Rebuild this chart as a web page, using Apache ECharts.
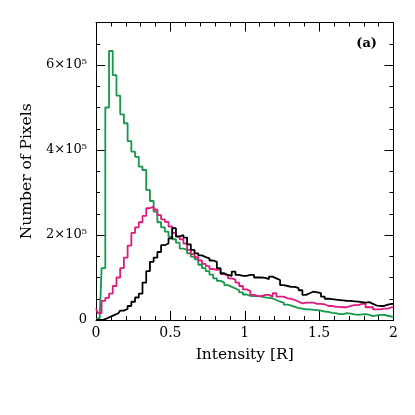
<!DOCTYPE html>
<html>
<head>
<meta charset="utf-8">
<script src="https://cdn.jsdelivr.net/npm/echarts@6/dist/echarts.min.js"></script>
<style>
html,body{margin:0;padding:0;background:#fff;}
#chart{width:415px;height:415px;}
</style>
</head>
<body>
<div id="chart"></div>
<script>
// Bin centres (Intensity [R])
const binCenters = [
  0.000,0.025,0.050,0.075,0.100,0.125,0.150,0.175,0.200,0.225,
  0.250,0.275,0.300,0.325,0.350,0.375,0.400,0.425,0.450,0.475,
  0.500,0.525,0.550,0.575,0.600,0.625,0.650,0.675,0.700,0.725,
  0.750,0.775,0.800,0.825,0.850,0.875,0.900,0.925,0.950,0.975,
  1.000,1.025,1.050,1.075,1.100,1.125,1.150,1.175,1.200,1.225,
  1.250,1.275,1.300,1.325,1.350,1.375,1.400,1.425,1.450,1.475,
  1.500,1.525,1.550,1.575,1.600,1.625,1.650,1.675,1.700,1.725,
  1.750,1.775,1.800,1.825,1.850,1.875,1.900,1.925,1.950,1.975,
  2.000
];
// Number of pixels, in units of 10^5
const greenCounts = [
  0.02,0.05,1.22,5.00,6.33,5.76,5.28,4.84,4.63,4.21,
  3.96,3.84,3.61,3.53,3.06,2.80,2.55,2.30,2.18,2.08,
  1.96,1.90,1.82,1.68,1.65,1.57,1.49,1.43,1.30,1.22,
  1.15,1.07,0.98,0.92,0.88,0.82,0.78,0.74,0.70,0.65,
  0.60,0.57,0.56,0.56,0.55,0.53,0.52,0.51,0.47,0.43,
  0.41,0.36,0.34,0.31,0.28,0.27,0.25,0.25,0.24,0.23,
  0.22,0.20,0.19,0.17,0.16,0.14,0.14,0.16,0.15,0.13,
  0.12,0.13,0.14,0.12,0.09,0.11,0.12,0.12,0.10,0.08,
  0.08
];
const magentaCounts = [
  0.27,0.16,0.45,0.52,0.62,0.80,1.00,1.22,1.47,1.75,
  2.05,2.18,2.30,2.45,2.63,2.67,2.60,2.47,2.37,2.31,
  2.20,2.05,1.96,1.90,1.80,1.65,1.55,1.48,1.40,1.32,
  1.27,1.20,1.18,1.20,1.08,1.04,0.98,0.95,0.88,0.80,
  0.72,0.68,0.59,0.56,0.56,0.59,0.59,0.55,0.63,0.55,
  0.55,0.51,0.50,0.47,0.43,0.39,0.41,0.41,0.41,0.38,
  0.38,0.37,0.33,0.33,0.31,0.31,0.30,0.30,0.33,0.35,
  0.35,0.38,0.38,0.30,0.30,0.25,0.25,0.27,0.27,0.30,
  0.30
];
const blackCounts = [
  0.00,0.00,0.01,0.04,0.08,0.12,0.16,0.22,0.26,0.33,
  0.43,0.53,0.62,0.88,1.15,1.37,1.47,1.60,1.76,1.80,
  1.92,2.16,1.97,2.00,1.94,1.78,1.65,1.57,1.52,1.48,
  1.45,1.40,1.37,1.22,1.10,1.06,1.04,1.14,1.06,1.04,
  1.04,1.06,1.06,1.00,1.00,0.99,0.96,1.02,0.98,0.94,
  0.82,0.80,0.78,0.78,0.75,0.70,0.59,0.63,0.67,0.65,
  0.63,0.55,0.50,0.49,0.48,0.47,0.46,0.45,0.45,0.44,
  0.43,0.42,0.41,0.42,0.38,0.34,0.33,0.33,0.36,0.38,
  0.38
];
const xTickLabels = ['0','0.5','1','1.5','2'];
const yTickLabels = ['0','2×10⁵','4×10⁵','6×10⁵'];

const FONT = 'DejaVu Serif';
const pairs = arr => binCenters.map((x, i) => [x, arr[i]]);

const chart = echarts.init(document.getElementById('chart'), null, {renderer: 'canvas'});

const axisLineStyle = {show: true, onZero: false, lineStyle: {color: '#000', width: 1}};
function xAx(pos, showLabel) {
  return {
    type: 'value', position: pos, min: 0, max: 2, interval: 0.5,
    axisLine: axisLineStyle,
    axisTick: {show: true, inside: true, length: 9, lineStyle: {color: '#000'}},
    minorTick: {show: true, splitNumber: 5, length: 4, lineStyle: {color: '#000'}},
    splitLine: {show: false},
    axisLabel: {show: showLabel, fontFamily: FONT, fontSize: 14, color: '#000', margin: 6,
      formatter: v => { const i = Math.round(v / 0.5); return xTickLabels[i] !== undefined ? xTickLabels[i] : ''; }},
    name: showLabel ? 'Intensity [R]' : '',
    nameLocation: 'middle', nameGap: 27,
    nameTextStyle: {fontFamily: FONT, fontSize: 15.5, color: '#000'}
  };
}
function yMajor(pos, showLabel) {
  return {
    type: 'value', position: pos, min: 0, max: 7, interval: 2,
    axisLine: axisLineStyle,
    axisTick: {show: true, inside: true, length: 9, lineStyle: {color: '#000'}},
    splitLine: {show: false},
    axisLabel: {show: showLabel, fontFamily: FONT, fontSize: 13, color: '#000', margin: 9,
      formatter: v => { const i = Math.round(v / 2); return (Math.abs(v - 2 * i) < 1e-9 && yTickLabels[i] !== undefined) ? yTickLabels[i] : ''; }},
    name: showLabel ? 'Number of Pixels' : '',
    nameLocation: 'middle', nameGap: 50, nameRotate: 90,
    nameTextStyle: {fontFamily: FONT, fontSize: 15.5, color: '#000'}
  };
}
function yMinor(pos) {
  return {
    type: 'value', position: pos, min: 0, max: 7, interval: 0.5,
    axisLine: {show: false, onZero: false},
    axisTick: {show: true, inside: true, length: 4, lineStyle: {color: '#000'}},
    splitLine: {show: false},
    axisLabel: {show: false}
  };
}

const lineSeries = (name, color, arr) => ({
  name, type: 'line', step: 'middle', data: pairs(arr),
  xAxisIndex: 0, yAxisIndex: 0,
  showSymbol: false, symbol: 'none',
  lineStyle: {color, width: 1.8},
  animation: false
});

chart.setOption({
  animation: false,
  grid: {left: 96, right: 21.5, top: 22.5, bottom: 95, containLabel: false},
  xAxis: [xAx('bottom', true), xAx('top', false)],
  yAxis: [yMajor('left', true), yMinor('left'), yMajor('right', false), yMinor('right')],
  series: [
    lineSeries('green', '#12994a', greenCounts),
    lineSeries('magenta', '#e0197d', magentaCounts),
    lineSeries('black', '#000000', blackCounts)
  ],
  graphic: [{
    type: 'text', right: 38, top: 37,
    style: {text: '(a)', fontFamily: FONT, fontSize: 13, fontWeight: 'bold', fill: '#000'}
  }]
});
</script>
</body>
</html>
